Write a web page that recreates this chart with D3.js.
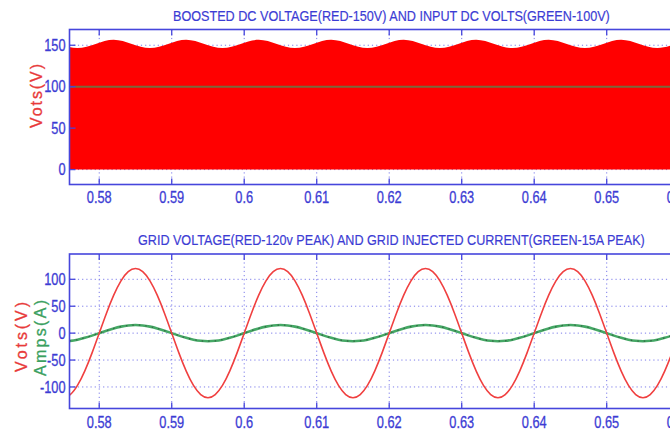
<!DOCTYPE html>
<html>
<head>
<meta charset="utf-8">
<script src="https://cdn.jsdelivr.net/npm/d3@7"></script>
<style>
  html, body { margin: 0; padding: 0; background: #fff; }
  svg { display: block; }
  .lbl { font-family: "Liberation Sans", Arial, sans-serif; }
</style>
</head>
<body>
<svg id="chart" width="670" height="436"></svg>
<script>
// ---- data -------------------------------------------------------------
const xTicks = [0.58, 0.59, 0.60, 0.61, 0.62, 0.63, 0.64, 0.65, 0.66];
const xTickLabels = ["0.58", "0.59", "0.6", "0.61", "0.62", "0.63", "0.64", "0.65", "0.66"];

// Boosted DC link voltage: envelope of the switched waveform (V), sampled every 2.5 ms from 0.5745 s
const dcEnvStart = 0.5745, dcEnvStep = 0.0025;
const dcEnvelope = [151.5, 146.6, 151.6, 156.6, 151.5, 146.6, 151.6, 156.6, 151.5, 146.6,
                    151.6, 156.6, 151.5, 146.6, 151.6, 156.6, 151.5, 146.6, 151.6, 156.6,
                    151.5, 146.6, 151.6, 156.6, 151.5, 146.6, 151.6, 156.6, 151.5, 146.6,
                    151.6, 156.6, 151.5, 146.6, 151.6, 156.6, 151.5, 146.6];
const inputDc = 100;           // input DC volts (V)
const dcYTicks = [0, 50, 100, 150];

// Grid voltage (V) and injected current (A), sampled every 1 ms from 0.575 s
const acStart = 0.575, acStep = 0.001;
const gridVoltage = [
  -120, -114.1, -97.1, -70.5, -37.1,
  0, 37.1, 70.5, 97.1, 114.1, 120, 114.1, 97.1, 70.5, 37.1,
  0, -37.1, -70.5, -97.1, -114.1, -120, -114.1, -97.1, -70.5, -37.1,
  0, 37.1, 70.5, 97.1, 114.1, 120, 114.1, 97.1, 70.5, 37.1,
  0, -37.1, -70.5, -97.1, -114.1, -120, -114.1, -97.1, -70.5, -37.1,
  0, 37.1, 70.5, 97.1, 114.1, 120, 114.1, 97.1, 70.5, 37.1,
  0, -37.1, -70.5, -97.1, -114.1, -120, -114.1, -97.1, -70.5, -37.1,
  0, 37.1, 70.5, 97.1, 114.1, 120, 114.1, 97.1, 70.5, 37.1,
  0, -37.1, -70.5, -97.1, -114.1, -120, -114.1, -97.1, -70.5, -37.1,
  0, 37.1, 70.5, 97.1, 114.1, 120, 114.1
];
const gridCurrent = [
  -15, -14.3, -12.1, -8.8, -4.6,
  0, 4.6, 8.8, 12.1, 14.3, 15, 14.3, 12.1, 8.8, 4.6,
  0, -4.6, -8.8, -12.1, -14.3, -15, -14.3, -12.1, -8.8, -4.6,
  0, 4.6, 8.8, 12.1, 14.3, 15, 14.3, 12.1, 8.8, 4.6,
  0, -4.6, -8.8, -12.1, -14.3, -15, -14.3, -12.1, -8.8, -4.6,
  0, 4.6, 8.8, 12.1, 14.3, 15, 14.3, 12.1, 8.8, 4.6,
  0, -4.6, -8.8, -12.1, -14.3, -15, -14.3, -12.1, -8.8, -4.6,
  0, 4.6, 8.8, 12.1, 14.3, 15, 14.3, 12.1, 8.8, 4.6,
  0, -4.6, -8.8, -12.1, -14.3, -15, -14.3, -12.1, -8.8, -4.6,
  0, 4.6, 8.8, 12.1, 14.3, 15, 14.3
];
const acYTicks = [-100, -50, 0, 50, 100];

const topTitle = "BOOSTED DC VOLTAGE(RED-150V) AND INPUT DC VOLTS(GREEN-100V)";
const bottomTitle = "GRID VOLTAGE(RED-120v PEAK) AND GRID INJECTED CURRENT(GREEN-15A PEAK)";

// ---- styling -----------------------------------------------------------
const axisBlue = "#4646dc";
const gridBlue = "#7b7bea";
const labelBlue = "#3c3cd4";
const squeeze = 0.8;   // horizontal condensing of the tick lettering

const svg = d3.select("#chart");
const defs = svg.append("defs");

// Axes extend past the right edge of the viewport
const left = 69.5, right = 714;
const x = d3.scaleLinear().domain([0.5759, 0.6648]).range([left, right]);

function drawGrid(g, y, yTicks, top, bottom) {
  g.append("g").selectAll("line").data(xTicks).join("line")
    .attr("x1", d => x(d)).attr("x2", d => x(d))
    .attr("y1", top).attr("y2", bottom)
    .attr("stroke", gridBlue).attr("stroke-width", 1).attr("stroke-dasharray", "1.2,3");
  g.append("g").selectAll("line").data(yTicks).join("line")
    .attr("x1", left).attr("x2", right)
    .attr("y1", d => y(d)).attr("y2", d => y(d))
    .attr("stroke", gridBlue).attr("stroke-width", 1).attr("stroke-dasharray", "1.2,3");
}

function drawBorder(g, y, yTicks, top, bottom, labelBaseline) {
  g.append("rect")
    .attr("x", left).attr("y", top)
    .attr("width", right - left).attr("height", bottom - top)
    .attr("fill", "none").attr("stroke", axisBlue).attr("stroke-width", 1.6);

  // inward ticks on the top, bottom and left edges
  const tk = g.append("g").attr("stroke", axisBlue).attr("stroke-width", 1.3);
  tk.append("g").selectAll("line").data(xTicks).join("line")
    .attr("x1", d => x(d)).attr("x2", d => x(d))
    .attr("y1", top).attr("y2", top + 6);
  tk.append("g").selectAll("line").data(xTicks).join("line")
    .attr("x1", d => x(d)).attr("x2", d => x(d))
    .attr("y1", bottom).attr("y2", bottom - 6);
  tk.append("g").selectAll("line").data(yTicks).join("line")
    .attr("x1", left).attr("x2", left + 6)
    .attr("y1", d => y(d)).attr("y2", d => y(d));

  // tick labels (condensed lettering)
  g.append("g").attr("class", "lbl").selectAll("text").data(xTicks).join("text")
    .attr("transform", d => `translate(${x(d)},${labelBaseline}) scale(${squeeze},1)`)
    .attr("text-anchor", "middle")
    .attr("font-size", 16).attr("fill", labelBlue)
    .attr("stroke", labelBlue).attr("stroke-width", 0.3)
    .text((d, i) => xTickLabels[i]);
  g.append("g").attr("class", "lbl").selectAll("text").data(yTicks).join("text")
    .attr("transform", d => `translate(${left - 4},${y(d)}) scale(${squeeze},1)`)
    .attr("dy", "0.36em")
    .attr("text-anchor", "end")
    .attr("font-size", 16).attr("fill", labelBlue)
    .attr("stroke", labelBlue).attr("stroke-width", 0.3)
    .text(d => d);
}

// Title squeezed horizontally so it spans the given width
function drawTitle(text, x0, baseline, width) {
  const t = svg.append("text").attr("class", "lbl")
    .attr("font-size", 15).attr("fill", labelBlue)
    .attr("stroke", labelBlue).attr("stroke-width", 0.2)
    .text(text);
  const natural = t.node().getComputedTextLength();
  t.attr("transform", `translate(${x0},${baseline}) scale(${width / natural},1)`);
}

function drawYTitle(text, cx, cy, len, color) {
  svg.append("text").attr("class", "lbl")
    .attr("transform", `translate(${cx},${cy}) rotate(-90)`)
    .attr("text-anchor", "middle")
    .attr("font-size", 16).attr("fill", color)
    .attr("stroke", color).attr("stroke-width", 0.3)
    .attr("textLength", len).attr("lengthAdjust", "spacing")
    .text(text);
}

// ---- top panel: boosted DC voltage --------------------------------------
{
  const top = 29.5, bottom = 184.5;
  const y = d3.scaleLinear().domain([-18, 169]).range([bottom, top]);
  const g = svg.append("g");

  defs.append("clipPath").attr("id", "clipTop")
    .append("rect").attr("x", left).attr("y", top).attr("width", right - left).attr("height", bottom - top);

  drawGrid(g, y, dcYTicks, top, bottom);

  const env = dcEnvelope.map((v, i) => ({ t: dcEnvStart + i * dcEnvStep, v }));
  const area = d3.area()
    .x(d => x(d.t)).y0(y(0)).y1(d => y(d.v))
    .curve(d3.curveNatural);
  g.append("path").datum(env)
    .attr("clip-path", "url(#clipTop)")
    .attr("d", area)
    .attr("fill", "#ff0000");

  g.append("line")
    .attr("x1", left).attr("x2", right)
    .attr("y1", y(inputDc)).attr("y2", y(inputDc))
    .attr("stroke", "#7a6a3c").attr("stroke-width", 2);

  drawBorder(g, y, dcYTicks, top, bottom, 203);
  drawTitle(topTitle, 173, 20.5, 437);
  drawYTitle("Vots(V)", 42, 96, 64, "#e83a3a");
}

// ---- bottom panel: grid voltage and current ------------------------------
{
  const top = 254, bottom = 408.5;
  const y = d3.scaleLinear().domain([-140, 147]).range([bottom, top]);
  const g = svg.append("g");

  defs.append("clipPath").attr("id", "clipBot")
    .append("rect").attr("x", left).attr("y", top).attr("width", right - left).attr("height", bottom - top);

  drawGrid(g, y, acYTicks, top, bottom);

  const vPts = gridVoltage.map((v, i) => ({ t: acStart + i * acStep, v }));
  const iPts = gridCurrent.map((v, i) => ({ t: acStart + i * acStep, v }));
  const line = d3.line().x(d => x(d.t)).y(d => y(d.v)).curve(d3.curveNatural);

  const plot = g.append("g").attr("clip-path", "url(#clipBot)");
  plot.append("path").datum(iPts).attr("d", line)
    .attr("fill", "none").attr("stroke", "#45a865").attr("stroke-width", 2.6);
  plot.append("path").datum(iPts).attr("d", line)
    .attr("fill", "none").attr("stroke", "#2c4a36").attr("stroke-width", 1.2)
    .attr("stroke-dasharray", "1.5,5").attr("opacity", 0.7);
  plot.append("path").datum(vPts).attr("d", line)
    .attr("fill", "none").attr("stroke", "#f04040").attr("stroke-width", 1.6);

  drawBorder(g, y, acYTicks, top, bottom, 428);
  drawTitle(bottomTitle, 138, 245, 507);
  drawYTitle("Vots(V)", 27, 337, 70, "#e83a3a");
  drawYTitle("Amps(A)", 46, 338, 76, "#3aa060");
}
</script>
</body>
</html>
